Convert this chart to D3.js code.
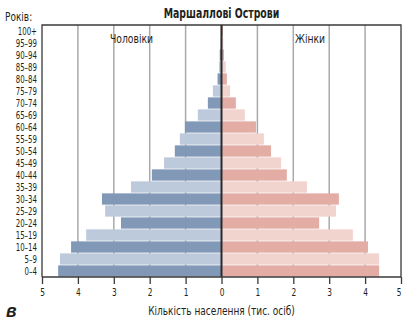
<!DOCTYPE html>
<html>
<head>
<meta charset="utf-8">
<script src="https://cdn.jsdelivr.net/npm/d3@7"></script>
<style>
  html, body { margin: 0; padding: 0; background: #fff; }
  svg { display: block; }
  text { font-family: "DejaVu Sans Condensed", "Liberation Sans Narrow", sans-serif; fill: #231f20; }
</style>
</head>
<body>
<svg id="chart" width="403" height="321"></svg>
<script>
// Age groups, bottom to top
const ageGroups = ["0–4","5–9","10–14","15–19","20–24","25–29","30–34","35–39","40–44","45–49",
  "50–54","55–59","60–64","65–69","70–74","75–79","80–84","85–89","90–94","95–99","100+"];
// Population, thousands
const male   = [4.55, 4.50, 4.19, 3.77, 2.80, 3.24, 3.33, 2.52, 1.94, 1.60,
  1.30, 1.16, 1.02, 0.66, 0.38, 0.24, 0.11, 0.07, 0.05, 0.03, 0.02];
const female = [4.39, 4.39, 4.08, 3.66, 2.72, 3.19, 3.27, 2.38, 1.82, 1.66,
  1.38, 1.18, 0.96, 0.65, 0.40, 0.24, 0.15, 0.12, 0.07, 0.05, 0.04];
const tickValues = [1, 2, 3, 4, 5];

const svg = d3.select("#chart");
const plotLeft = 42, plotRight = 401, plotTop = 25, plotBottom = 277, mid = 221.5;

// squeeze text horizontally to a narrow face
function condense(sel, k) {
  sel.each(function () {
    const w = this.getComputedTextLength();
    d3.select(this).attr("textLength", w * k).attr("lengthAdjust", "spacingAndGlyphs");
  });
}

const xL = d3.scaleLinear().domain([0, 5]).range([mid, plotLeft]);
const xR = d3.scaleLinear().domain([0, 5]).range([mid, plotRight]);
const y = d3.scaleBand().domain(ageGroups.slice().reverse()).range([plotTop, plotBottom]).paddingInner(0.06).paddingOuter(0.03);

// grid lines
const grid = svg.append("g");
tickValues.slice(0, 4).forEach(v => {
  [xL(v), xR(v)].forEach(px => {
    grid.append("line").attr("x1", px).attr("x2", px).attr("y1", plotTop).attr("y2", plotBottom)
      .attr("stroke", "#a7a9ac").attr("stroke-width", 1.5);
  });
});

// bars
const maleColors = ["#8199b7", "#bccadb"];
const femaleColors = ["#e3ada5", "#f2d4cf"];
svg.append("g").selectAll("rect").data(male).join("rect")
  .attr("x", d => xL(d)).attr("width", d => mid - xL(d))
  .attr("y", (d, i) => y(ageGroups[i])).attr("height", y.bandwidth())
  .attr("fill", (d, i) => maleColors[i % 2]);
svg.append("g").selectAll("rect").data(female).join("rect")
  .attr("x", mid).attr("width", d => xR(d) - mid)
  .attr("y", (d, i) => y(ageGroups[i])).attr("height", y.bandwidth())
  .attr("fill", (d, i) => femaleColors[i % 2]);

// frame
svg.append("path")
  .attr("d", `M${plotLeft},${plotBottom}V${plotTop}H${plotRight}V${plotBottom}`)
  .attr("fill", "none").attr("stroke", "#3a3a3a").attr("stroke-width", 1.3);
svg.append("line").attr("x1", mid).attr("x2", mid).attr("y1", plotTop).attr("y2", plotBottom)
  .attr("stroke", "#2b2b2b").attr("stroke-width", 2);

// bottom axes
const axL = d3.axisBottom(xL).tickValues([0, 1, 2, 3, 4, 5]).tickSize(7).tickFormat(d3.format("d"));
const axR = d3.axisBottom(xR).tickValues([1, 2, 3, 4, 5]).tickSize(7).tickFormat(d3.format("d"));
[axL, axR].forEach((ax, k) => {
  const g = svg.append("g").attr("transform", `translate(0,${plotBottom})`).call(ax);
  g.select(".domain").remove();
  g.selectAll(".tick line").attr("stroke", "#3a3a3a").attr("stroke-width", 1.3);
  const t = g.selectAll(".tick text").attr("dy", "0.72em").attr("y", 11)
    .style("font-size", "11px").style("font-family", "\"DejaVu Sans Condensed\", sans-serif");
  condense(t, 0.75);
  // keep the outermost right label inside the page
  if (k === 1) t.filter(d => d === 5).attr("text-anchor", "end").attr("x", 0);
});
svg.append("line").attr("x1", plotLeft).attr("x2", plotRight).attr("y1", plotBottom).attr("y2", plotBottom)
  .attr("stroke", "#3a3a3a").attr("stroke-width", 1.5);

// age labels
const ageText = svg.append("g").selectAll("text").data(ageGroups).join("text")
  .attr("x", 37).attr("y", d => y(d) + y.bandwidth() / 2).attr("dy", "0.38em")
  .attr("text-anchor", "end").style("font-size", "10.5px").text(d => d);
condense(ageText, 0.74);

condense(svg.append("text").attr("x", 5).attr("y", 21).style("font-size", "12.5px").text("Років:"), 0.8);
condense(svg.append("text").attr("x", mid).attr("y", 18).attr("text-anchor", "middle")
  .style("font-size", "13.5px").style("font-weight", "bold").text("Маршаллові Острови"), 0.77);
condense(svg.append("text").attr("x", 110).attr("y", 43).style("font-size", "12.5px").text("Чоловіки"), 0.82);
condense(svg.append("text").attr("x", 295).attr("y", 43).style("font-size", "12.5px").text("Жінки"), 0.82);
condense(svg.append("text").attr("x", mid).attr("y", 315).attr("text-anchor", "middle")
  .style("font-size", "12.5px").text("Кількість населення (тис. осіб)"), 0.8);
svg.append("text").attr("x", 6).attr("y", 317)
  .style("font-size", "17.5px").style("font-style", "italic").style("font-weight", "bold")
  .style("font-family", "\"Liberation Sans\", sans-serif").text("в");
</script>
</body>
</html>
